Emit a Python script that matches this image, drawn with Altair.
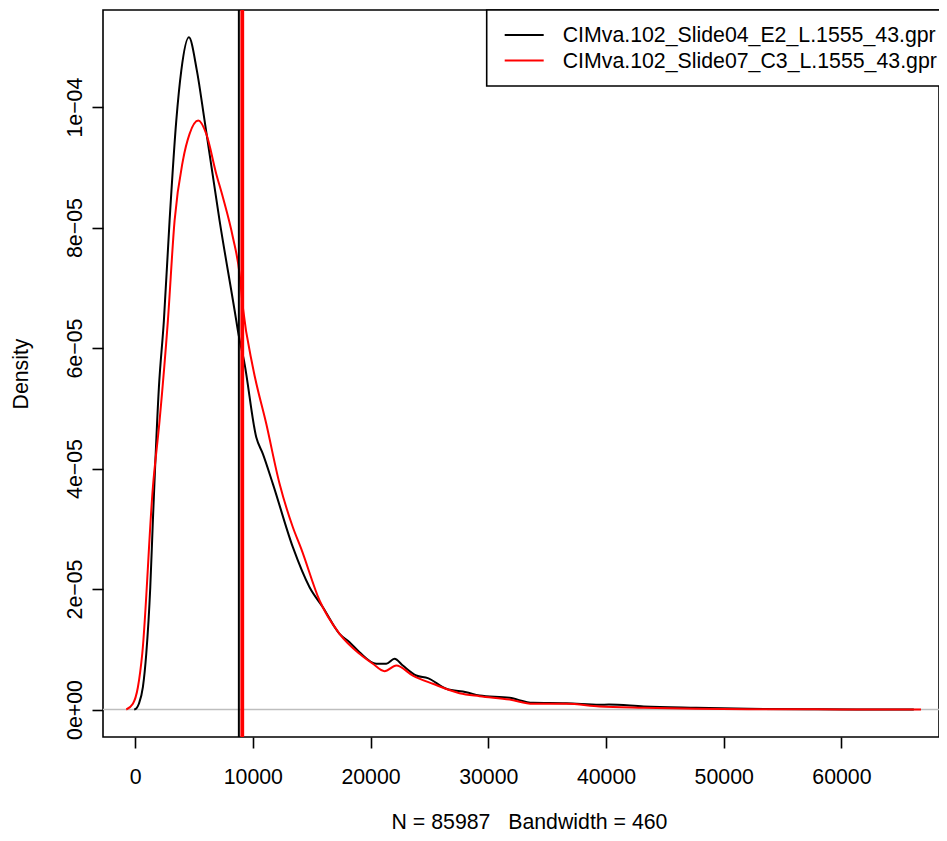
import altair as alt
import pandas as pd

series_names = ["CIMva.102_Slide04_E2_L.1555_43.gpr", "CIMva.102_Slide07_C3_L.1555_43.gpr"]
series_colors = ["#000000", "#FF0000"]

black_x = [-77, 102, 323, 662, 951, 1290, 1512, 2021, 2446, 2930, 3499, 3924, 4569, 5249, 5903, 7177,
           8595, 8731, 9300, 10293, 10854, 11703, 13402, 14820, 15950, 17368, 18217, 19066, 20485,
           21334, 22039, 22744, 23882, 24867, 26430, 28129, 29258, 31806, 33785, 36621, 39450,
           40248, 43204, 47654, 52096, 58024, 66149]
black_y = [0.0, 0.017, 0.095, 0.37, 0.93, 2.03, 3.137, 5.344, 6.456, 8.116, 9.776, 10.606, 11.158, 10.606,
           9.776, 8.116, 6.456, 6.290, 5.738, 4.520, 4.244, 3.746, 2.694, 2.030, 1.698, 1.256, 1.117,
           0.951, 0.759, 0.759, 0.841, 0.730, 0.564, 0.520, 0.344, 0.287, 0.232, 0.194, 0.111, 0.105,
           0.078, 0.083, 0.050, 0.028, 0.012, 0.004, 0.0]

red_x = [-750, -187, 238, 611, 1512, 2081, 2786, 3355, 4060, 4629, 5368, 6047, 6896, 7457, 8306, 8875,
         9155, 10005, 11143, 12273, 13402, 14116, 15669, 17368, 19066, 20196, 21190, 22183, 23593,
         25292, 27560, 29258, 31806, 33785, 36621, 39450, 43187, 47654, 52105, 60000, 66760]
red_y = [0.0, 0.095, 0.37, 0.93, 3.69, 4.797, 6.456, 8.116, 9.112, 9.555, 9.776, 9.555, 8.891, 8.503,
         7.839, 7.232, 6.677, 5.681, 4.742, 3.746, 3.026, 2.667, 1.809, 1.256, 0.924, 0.759, 0.636,
         0.730, 0.564, 0.427, 0.271, 0.221, 0.166, 0.095, 0.095, 0.050, 0.028, 0.012, 0.005, 0.002, 0.0]

vline_x = [8815, 9104]

x_ticks = [0, 10000, 20000, 30000, 40000, 50000, 60000]
y_ticks = [0, 2e-5, 4e-5, 6e-5, 8e-5, 1e-4]
y_tick_labels = ["0e+00", "2e\u221205", "4e\u221205", "6e\u221205", "8e\u221205", "1e\u221204"]
x_title = "N = 85987\u00a0\u00a0\u00a0Bandwidth = 460"

x_domain = [-2726, 68288]
y_domain = [-0.4565e-5, 11.612e-5]

rows = []
for i, (xs, ys) in enumerate([(black_x, black_y), (red_x, red_y)]):
    for k, (a, b) in enumerate(zip(xs, ys)):
        rows.append({"series": series_names[i], "order": i, "idx": k, "x": a, "y": b * 1e-5})
df = pd.DataFrame(rows)

FONT = "Liberation Sans"
FS = 21.3
W, H = 836, 727

xscale = alt.Scale(domain=x_domain, nice=False, zero=False)
yscale = alt.Scale(domain=y_domain, nice=False, zero=False)

label_expr = "[" + ",".join("'%s'" % s for s in y_tick_labels) + "][round(datum.value*50000)]"

xaxis = alt.Axis(values=x_ticks, format="d", domain=False, grid=False, tickColor="black",
                 tickWidth=1.6, tickSize=11, labelFont=FONT, labelFontSize=FS, labelColor="black",
                 labelBaseline="alphabetic", labelPadding=35, labelFlush=False, labelOverlap=False,
                 title=x_title, titleFont=FONT, titleFontSize=FS, titleFontWeight="normal",
                 titleColor="black", titleBaseline="alphabetic", titleX=426, titleY=91,
                 titleAlign="center")
yaxis = alt.Axis(values=y_ticks, labelExpr=label_expr, domain=False, grid=False, tickColor="black",
                 tickWidth=1.6, tickSize=11, labelFont=FONT, labelFontSize=FS, labelColor="black",
                 labelAngle=270, labelAlign="center", labelBaseline="alphabetic", labelPadding=11,
                 labelFlush=False, labelOverlap=False,
                 title="Density", titleFont=FONT, titleFontSize=FS, titleFontWeight="normal",
                 titleColor="black", titleAngle=270, titleBaseline="alphabetic", titleAlign="center",
                 titleX=-76, titleY=H / 2)

base = alt.Chart(df)

zero_line = alt.Chart(pd.DataFrame({"y": [0.0]})).mark_rule(color="#BEBEBE", strokeWidth=1.6).encode(
    y=alt.Y("y:Q", scale=yscale, axis=yaxis)
)

curves = base.mark_line(strokeWidth=2, interpolate="monotone", clip=True).encode(
    x=alt.X("x:Q", scale=xscale, axis=xaxis),
    y=alt.Y("y:Q", scale=yscale, axis=yaxis),
    color=alt.Color("series:N", scale=alt.Scale(domain=series_names, range=series_colors), legend=None),
    detail="series:N",
    order="idx:Q",
)

vl_black = alt.Chart(pd.DataFrame({"x": [vline_x[0]]})).mark_rule(color="black", strokeWidth=2, clip=True).encode(
    x=alt.X("x:Q", scale=xscale, axis=xaxis))
vl_red = alt.Chart(pd.DataFrame({"x": [vline_x[1]]})).mark_rule(color="#FF0000", strokeWidth=3.8, clip=True).encode(
    x=alt.X("x:Q", scale=xscale, axis=xaxis))

LX = 383.7
legend_box = alt.Chart(pd.DataFrame({"a": [0]})).mark_rect(fill="white", stroke="black", strokeWidth=1.6).encode(
    x=alt.value(LX), x2=alt.value(W + 4), y=alt.value(0), y2=alt.value(76))

legend_layers = []
for i, name in enumerate(series_names):
    yc = 25 + 25.5 * i
    legend_layers.append(
        alt.Chart(pd.DataFrame({"a": [0]})).mark_rule(color=series_colors[i], strokeWidth=1.8).encode(
            x=alt.value(LX + 18), x2=alt.value(LX + 57), y=alt.value(yc)))
    legend_layers.append(
        alt.Chart(pd.DataFrame({"label": [name]})).mark_text(
            align="left", baseline="middle", font=FONT, fontSize=FS, color="black").encode(
            x=alt.value(LX + 76), y=alt.value(yc + 1), text="label:N"))

chart = alt.layer(zero_line, curves, vl_black, vl_red, legend_box, *legend_layers).properties(
    width=W, height=H,
    autosize=alt.AutoSizeParams(type="none"),
    padding={"left": 95, "top": 2, "right": 0, "bottom": 96},
).configure(background="white").configure_view(stroke="black", strokeWidth=1.6)

chart.save("out.html", embed_options={"renderer": "svg", "actions": False})
